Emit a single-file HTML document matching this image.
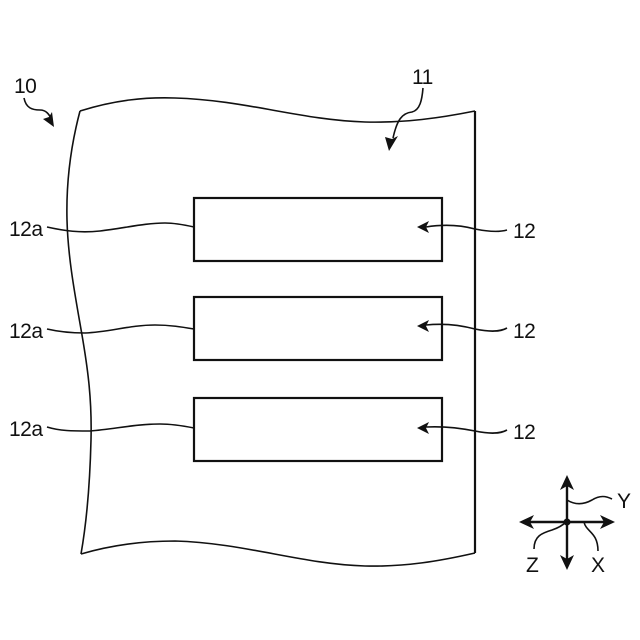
<!DOCTYPE html>
<html><head><meta charset="utf-8"><style>
html,body{margin:0;padding:0;background:#fff}
svg{display:block}
text{font-family:"Liberation Sans",sans-serif;font-size:21px;letter-spacing:-.5px;fill:#111}
</style></head><body>
<svg width="640" height="640" viewBox="0 0 640 640" xmlns="http://www.w3.org/2000/svg">
<rect width="640" height="640" fill="#fff"/>
<g fill="none" stroke="#111" stroke-width="1.6">
<path d="M80 111C115 100 145 97 175 98C245 100 300 120 365 122C405 123 440 118 475 111"/>
<path d="M80 111C71 145 66 180 67 220C68 260 76 300 82 335C88 370 92 400 91 440C90 480 87 520 81 554"/>
<path d="M81 554C115 544 145 541 175 541C245 543 300 564 365 566C405 567 440 561 475 553"/>
<path d="M475 111V553" stroke-width="2.2"/>
<g stroke-width="2.2">
<rect x="194" y="198" width="248" height="63"/>
<rect x="194" y="297" width="248" height="63"/>
<rect x="194" y="398" width="248" height="63"/>
</g>
<path d="M47 227C65 231 80 233 100 231C125 228 145 223 165 223C175 223 185 225 194 227"/>
<path d="M47 329C60 332 70 333 85 333C110 332 130 325 155 325C170 325 182 327 194 329"/>
<path d="M47 427C60 431 72 431 90 431C115 429 135 424 160 424C172 424 184 426 194 428"/>
<path d="M426 227C445 224 460 225 475 229C490 232 500 232 507 230"/>
<path d="M426 325C445 323 460 325 475 329C490 332 500 332 507 328"/>
<path d="M426 427C445 426 460 428 475 431C490 434 500 434 507 430"/>
<path d="M24 98C26 108 32 110 40 110C46 110 49 114 52 120"/>
<path d="M423 88C422 100 420 110 412 112C402 113 397 120 393 138"/>
<path d="M567 500C575 505 583 505 592 500C600 495 606 496 612 499"/>
<path d="M534 549C534 536 542 533 552 530C558 528 562 526 566 522"/>
<path d="M584 522C586 532 598 532 598 551"/>
<path d="M567 485V560M528 522H606" stroke-width="2.4"/>
</g>
<g fill="#111">
<polygon points="417,227 429,221 426,227 429,233"/>
<polygon points="417,326 429,320 426,326 429,332"/>
<polygon points="417,428 429,422 426,428 429,434"/>
<polygon points="54,127 43,119 49,117 52,112"/>
<polygon points="389,151 385,137 392,139 398,136"/>
<polygon points="567,475 560,490 567,486 574,490"/>
<polygon points="567,570 560,555 567,559 574,555"/>
<polygon points="519,522 534,515 530,522 534,529"/>
<polygon points="615,522 600,515 604,522 600,529"/>
<circle cx="567" cy="522" r="3.5"/>
</g>
<text x="14" y="93">10</text>
<text x="412" y="84">11</text>
<text x="9" y="236">12a</text>
<text x="9" y="338">12a</text>
<text x="9" y="436">12a</text>
<text x="513" y="238">12</text>
<text x="513" y="338">12</text>
<text x="513" y="439">12</text>
<text x="617" y="508">Y</text>
<text x="526" y="572">Z</text>
<text x="591" y="572">X</text>
</svg>
</body></html>
